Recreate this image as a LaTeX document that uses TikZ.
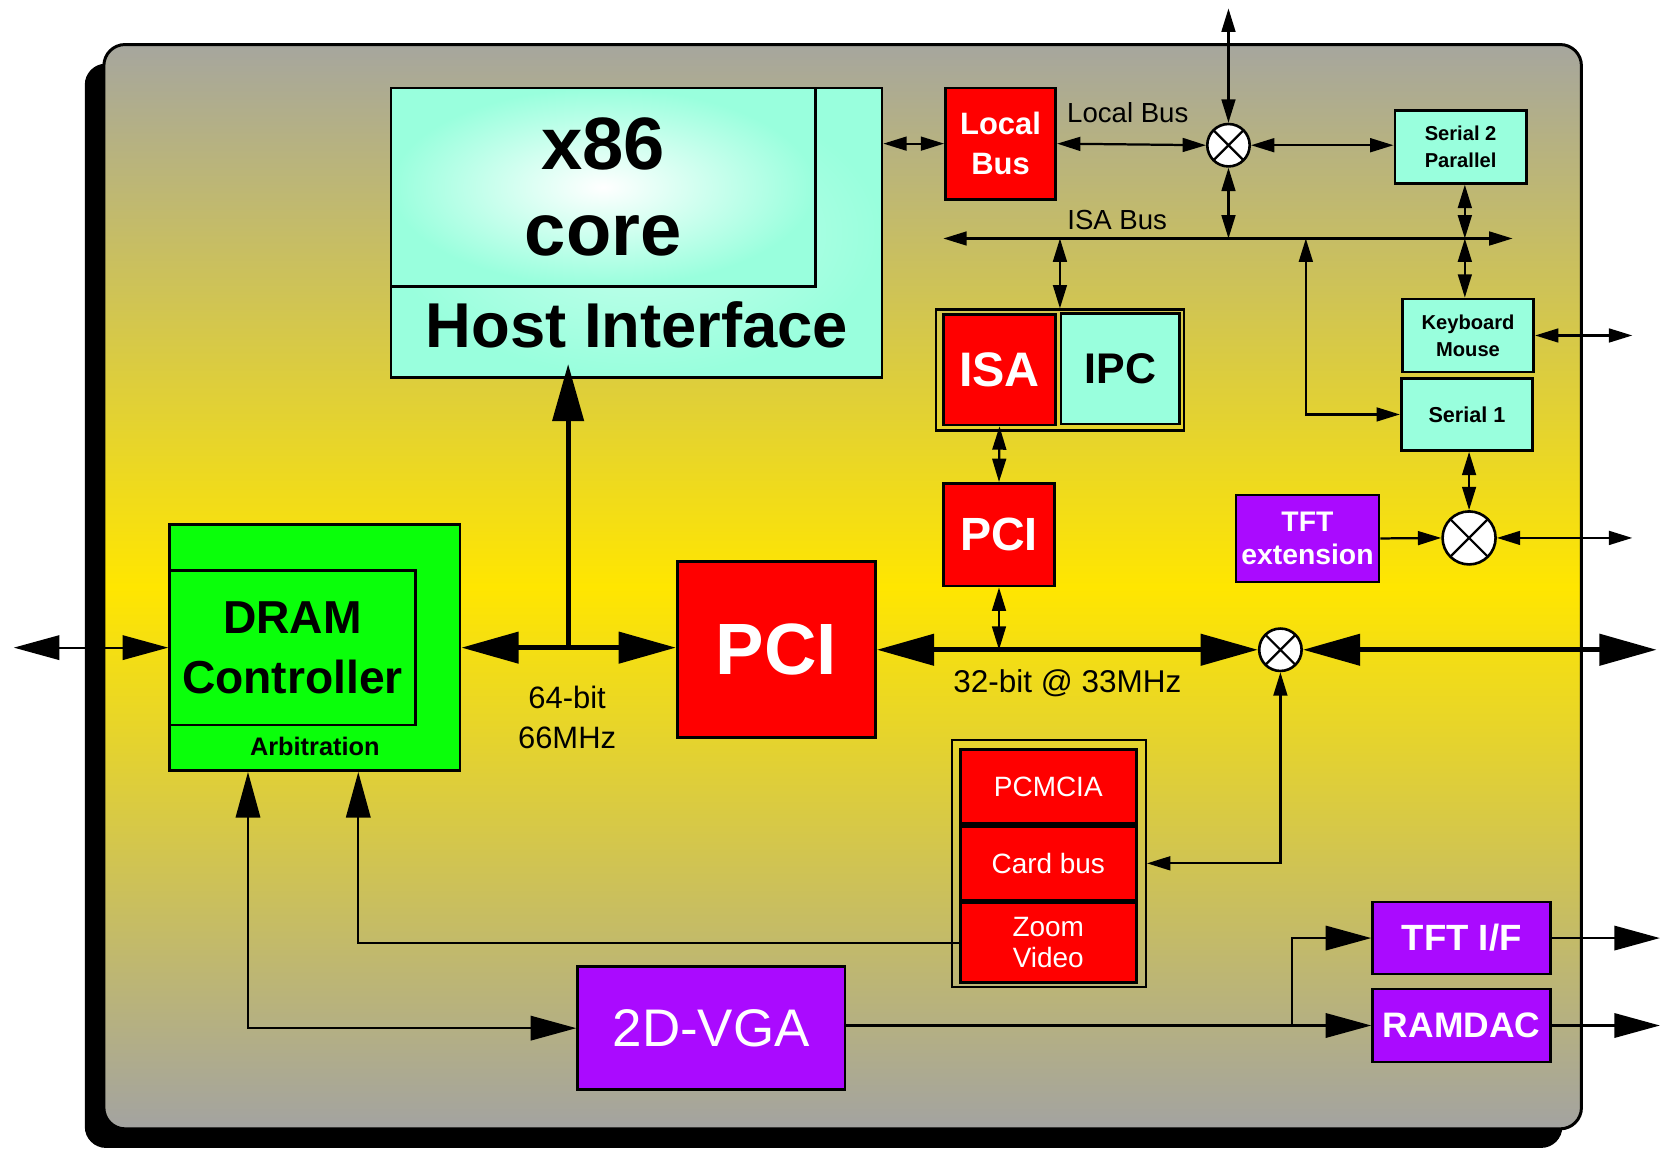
\documentclass[tikz,border=0pt]{standalone}
\usepackage{fontspec}
\setmainfont{Liberation Sans}
\usepackage{tikz}
\usetikzlibrary{arrows.meta,positioning}
\definecolor{chipred}{HTML}{FF0000}
\definecolor{chipaqua}{HTML}{99FFDD}
\definecolor{chipgreen}{HTML}{0AFF0A}
\definecolor{chippurple}{HTML}{AA0AFF}
\definecolor{boardtop}{HTML}{A6A69E}
\definecolor{boardmid}{HTML}{FFE600}
\definecolor{boardbot}{HTML}{A3A3A1}

\begin{document}
\begin{tikzpicture}[
    x=0.01cm, y=-0.01cm,
    chip/.style={rectangle, draw, line width=0.7pt, inner sep=0pt, align=center},
    redchip/.style={chip, fill=chipred, text=white},
    aquachip/.style={chip, fill=chipaqua},
    purplechip/.style={chip, fill=chippurple, text=white},
    groupframe/.style={rectangle, draw, line width=0.6pt, inner sep=0pt},
    mixer/.style={circle, draw, fill=white, line width=0.7pt, inner sep=0pt, minimum size=4mm,
        path picture={\draw[line width=0.6pt]
            (path picture bounding box.south west) -- (path picture bounding box.north east)
            (path picture bounding box.north west) -- (path picture bounding box.south east);}},
    link/.style={<->, >={Triangle[length=2.2mm,width=1.3mm]}, line width=0.6pt},
    feed/.style={<->, >={Triangle[length=4.3mm,width=2.3mm]}, line width=0.6pt},
    bus/.style={<->, >={Triangle[length=5.4mm,width=2.9mm]}, line width=1.4pt},
    buslabel/.style={align=center, inner sep=0pt}
]
\useasboundingbox (0,0) rectangle (1568,1084);

% Board and its shadow
\fill[black, rounded corners=2mm] (80,60) rectangle (1474,1083);
\draw[line width=0.8pt, rounded corners=2mm, top color=boardtop, bottom color=boardbot, middle color=boardmid] (98,42) rectangle (1492,1065);

% x86 core and host interface
\node[chip, minimum width=4.63cm, minimum height=2.73cm, inner color=chipaqua!55!white, outer color=chipaqua] (host) at (600.5,219.5) {};
\node[chip, minimum width=4cm, minimum height=1.87cm, inner color=white, outer color=chipaqua, font=\fontsize{19.9}{23}\selectfont\bfseries] (core) at (569,176.5) {x86\\core};
\node[buslabel, font=\fontsize{17}{20}\selectfont\bfseries] (hosttxt) at (601,306) {Host Interface};

% Local bus side
\node[redchip, minimum width=1.04cm, minimum height=1.05cm, font=\fontsize{8.3}{10.8}\selectfont\bfseries] (localbus) at (944,135.5) {Local\\Bus};
\node[mixer] (lbmix) at (1159,137) {};
\node[buslabel, font=\fontsize{7.4}{9}\selectfont] (lblbl) at (1064,106) {Local Bus};
\node[aquachip, minimum width=1.24cm, minimum height=0.69cm, font=\fontsize{5.4}{7.1}\selectfont\bfseries] (ser2) at (1378,138.5) {Serial 2\\Parallel};

% ISA bus
\coordinate (isaL) at (890,225);
\coordinate (isaR) at (1427,225);
\coordinate (isaK) at (1382,225);
\coordinate (isaS) at (1232,225);
\node[buslabel, font=\fontsize{7.4}{9}\selectfont] (isalbl) at (1054,208) {ISA Bus};

% ISA / IPC
\node[groupframe, minimum width=2.34cm, minimum height=1.14cm] (isagrp) at (1000,349) {};
\node[redchip, minimum width=1.06cm, minimum height=1.04cm, font=\fontsize{13}{15}\selectfont\bfseries] (isa) at (943,349) {ISA};
\node[aquachip, minimum width=1.12cm, minimum height=1.04cm, font=\fontsize{11.5}{14}\selectfont\bfseries] (ipc) at (1057,348) {IPC};

% Peripherals on the right
\node[aquachip, minimum width=1.24cm, minimum height=0.69cm, font=\fontsize{5.4}{7.2}\selectfont\bfseries] (km) at (1385,316.5) {Keyboard\\Mouse};
\node[aquachip, minimum width=1.24cm, minimum height=0.68cm, font=\fontsize{5.8}{7}\selectfont\bfseries] (ser1) at (1384,391) {Serial 1};
\node[purplechip, minimum width=1.35cm, minimum height=0.82cm, font=\fontsize{7.6}{8.8}\selectfont\bfseries] (tftext) at (1233.5,508) {TFT\\extension};
\node[mixer, minimum size=5mm] (tftmix) at (1386,507.5) {};

% PCI
\node[redchip, minimum width=1.05cm, minimum height=0.97cm, font=\fontsize{12.5}{15}\selectfont\bfseries] (pcis) at (942.5,504.5) {PCI};
\node[redchip, minimum width=1.87cm, minimum height=1.66cm, font=\fontsize{19.5}{23}\selectfont\bfseries] (pci) at (732.5,613) {PCI};
\node[mixer] (pcimix) at (1208,613) {};
\node[buslabel, font=\fontsize{8.45}{10}\selectfont] (lbl32) at (1007,645) {32-bit @ 33MHz};

% DRAM controller
\node[chip, fill=chipgreen, minimum width=2.74cm, minimum height=2.32cm] (dram) at (297,611) {};
\node[chip, fill=chipgreen, minimum width=2.32cm, minimum height=1.46cm, font=\fontsize{12.4}{16.2}\selectfont\bfseries] (dramctl) at (276,611) {DRAM\\Controller};
\node[buslabel, font=\fontsize{6.8}{8}\selectfont\bfseries] (arb) at (297,704) {Arbitration};
\node[buslabel, font=\fontsize{8.3}{10.8}\selectfont] (lbl64) at (535,677) {64-bit\\66MHz};

% PCMCIA
\node[groupframe, minimum width=1.83cm, minimum height=2.33cm] (pcgrp) at (989.5,814.5) {};
\node[redchip, minimum width=1.66cm, minimum height=0.70cm, font=\fontsize{7.5}{8.3}\selectfont] (pcmcia) at (989,742) {PCMCIA};
\node[redchip, minimum width=1.66cm, minimum height=0.70cm, font=\fontsize{7.5}{8.3}\selectfont, below=0pt of pcmcia] (cardbus) {Card bus};
\node[redchip, minimum width=1.66cm, minimum height=0.75cm, font=\fontsize{7.5}{8.3}\selectfont, below=0pt of cardbus] (zoom) {Zoom\\Video};

% Display
\node[purplechip, minimum width=2.52cm, minimum height=1.16cm, font=\fontsize{14.2}{17}\selectfont] (vga) at (671,970) {2D-VGA};
\node[purplechip, minimum width=1.68cm, minimum height=0.68cm, font=\fontsize{9.8}{12}\selectfont\bfseries] (tftif) at (1379,885) {TFT I/F};
\node[purplechip, minimum width=1.68cm, minimum height=0.69cm, font=\fontsize{9.5}{12}\selectfont\bfseries] (ramdac) at (1379,967.5) {RAMDAC};

% Ports and taps
\coordinate (lbtop) at (1159,8);
\coordinate (memport) at (13,611);
\coordinate (pciport) at (1563,613);
\coordinate (tftport) at (1540,507.5);
\coordinate (kmport) at (1540,316.5);
\coordinate (tfifport) at (1566,885);
\coordinate (ramport) at (1566,967.5);
\coordinate (tap) at (536,611);
\coordinate (vgabr) at ([xshift=-7.5mm]ramdac.west);

% Connections
\draw[link] (localbus.west -| host.east) -- (localbus.west);
\draw[link] (localbus.east) -- (lbmix.west);
\draw[link] (lbmix.north) -- (lbtop);
\draw[link] (lbmix.east) -- (lbmix.east -| ser2.west);
\draw[link] (lbmix.south) -- (lbmix.south |- isaL);
\draw[link] (isaL) -- (isaR);
\draw[link] (isagrp.north |- isaL) -- (isagrp.north);
\draw[link] (isaK |- ser2.south) -- (isaK);
\draw[link] (isaK) -- (isaK |- km.north);
\draw[link] (isaS) |- (ser1.west);
\draw[link] (km.east) -- (kmport);
\draw[link] (tftmix.north |- ser1.south) -- (tftmix.north);
\draw[link, ->] (tftext.east) -- (tftmix.west);
\draw[link] (tftmix.east) -- (tftport);
\draw[link] (isa.south) -- (pcis.north);
\draw[link] (pcis.south) -- (pcis.south |- pci.east);
\draw[bus] (dram.east) -- (dram.east -| pci.west);
\draw[bus, ->, shorten >=-1.4mm] (tap) -- (tap |- host.south);
\draw[bus] (pci.east) -- (pcimix.west);
\draw[bus] (pcimix.east) -- (pciport);
\draw[link] (pcimix.south) |- (cardbus.east -| pcgrp.east);
\draw[feed] (memport) -- (dram.west);
\draw[feed, ->] (zoom.west) -| ([xshift=4.1mm]dram.south);
\draw[feed] (vga.west) -| ([xshift=-6.3mm]dram.south);
\draw[feed, ->] (vga.east |- ramdac.west) -- (ramdac.west);
\draw[feed, ->] (vgabr) |- (tftif.west);
\draw[feed, ->] (tftif.east) -- (tfifport);
\draw[feed, ->] (ramdac.east) -- (ramport);

\end{tikzpicture}
\end{document}
